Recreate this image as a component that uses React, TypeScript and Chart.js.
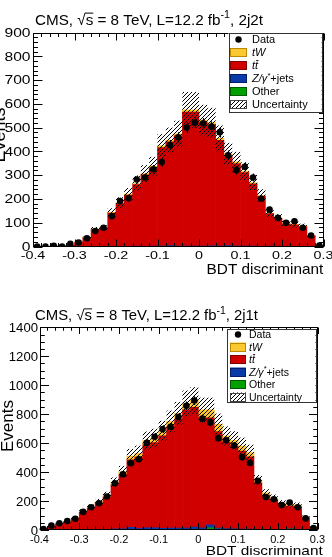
import React, { useEffect, useRef } from 'react';
import { Chart, registerables } from 'chart.js';

Chart.register(...registerables);

// ---------------- data ----------------
const binCenters = [
  -0.39, -0.37, -0.35, -0.33, -0.31, -0.29, -0.27, -0.25, -0.23, -0.21,
  -0.19, -0.17, -0.15, -0.13, -0.11, -0.09, -0.07, -0.05, -0.03, -0.01,
  0.01, 0.03, 0.05, 0.07, 0.09, 0.11, 0.13, 0.15, 0.17, 0.19,
  0.21, 0.23, 0.25, 0.27, 0.29,
];
const binHalfWidth = 0.01;
const xTickLabels = ['-0.4', '-0.3', '-0.2', '-0.1', '0', '0.1', '0.2', '0.3'];
const yTickLabels2j2t = ['0', '100', '200', '300', '400', '500', '600', '700', '800', '900'];
const yTickLabels2j1t = ['0', '200', '400', '600', '800', '1000', '1200', '1400'];

// 2j2t region
const data2j2t = [0, 0, 3, 0, 11, 17, 35, 65, 79, 127, 191, 203, 282, 290, 325, 355, 427, 459, 500, 520, 518, 504, 480, 384, 321, 335, 290, 201, 155, 121, 100, 106, 79, 46, 4];
const tw2j2t = [0, 0, 0, 0, 0, 1, 1, 2, 2, 3, 4, 4, 5, 6, 7, 8, 8, 9, 10, 10, 9, 9, 9, 8, 7, 6, 5, 4, 3, 3, 2, 2, 2, 1, 0];
const tt2j2t = [1, 1, 2, 3, 6, 17, 36, 71, 77, 141, 180, 215, 258, 300, 329, 414, 436, 463, 563, 563, 521, 509, 444, 378, 347, 309, 262, 210, 136, 118, 94, 91, 83, 45, 4];
const zjets2j2t = [0, 0, 0, 0, 0, 0, 0, 0, 0, 0, 0, 1, 1, 1, 1, 1, 3, 1, 1, 1, 1, 2, 1, 3, 1, 1, 1, 1, 1, 0, 0, 0, 0, 0, 0];
const other2j2t = [0, 0, 0, 0, 0, 0, 0, 0, 0, 0, 1, 0, 1, 0, 1, 1, 1, 1, 1, 1, 1, 1, 1, 1, 1, 1, 1, 0, 1, 0, 0, 0, 0, 0, 0];
const unc2j2t = [1, 1, 1, 1, 2, 3, 5, 9, 10, 17, 22, 26, 31, 35, 39, 49, 52, 55, 75, 75, 64, 62, 54, 46, 42, 37, 32, 26, 17, 15, 12, 12, 11, 7, 2];

// 2j1t region
const data2j1t = [7, 30, 46, 62, 78, 125, 157, 185, 231, 323, 385, 461, 489, 602, 644, 697, 713, 780, 858, 894, 770, 743, 634, 620, 584, 503, 463, 339, 228, 212, 172, 190, 157, 80, 14];
const tw2j1t = [1, 2, 3, 4, 5, 7, 8, 10, 12, 16, 20, 25, 27, 30, 32, 35, 38, 40, 45, 48, 55, 55, 50, 42, 40, 35, 30, 20, 14, 12, 10, 10, 10, 5, 1];
const tt2j1t = [9, 25, 41, 54, 77, 119, 148, 180, 223, 306, 375, 467, 494, 573, 588, 639, 699, 751, 817, 827, 760, 740, 666, 598, 572, 538, 498, 320, 237, 206, 173, 157, 158, 83, 18];
const zjets2j1t = [0, 1, 1, 2, 2, 3, 3, 4, 4, 6, 6, 15, 6, 12, 12, 8, 10, 10, 10, 15, 10, 20, 8, 6, 5, 4, 4, 3, 3, 2, 2, 2, 2, 1, 1];
const other2j1t = [0, 0, 0, 0, 1, 1, 1, 1, 1, 2, 2, 3, 3, 3, 3, 3, 3, 4, 3, 5, 5, 15, 6, 4, 3, 3, 3, 2, 2, 2, 2, 6, 2, 1, 0];
const unc2j1t = [2, 4, 5, 7, 9, 13, 16, 20, 24, 33, 40, 50, 53, 62, 64, 69, 75, 80, 88, 92, 84, 84, 74, 66, 62, 58, 54, 35, 26, 23, 19, 18, 18, 10, 3];

// ---------------- styles ----------------
const FONT = '"Liberation Sans", Arial, Helvetica, sans-serif';
const YELLOW = '#fdc82f';
const YELLOW_EDGE = '#b88a00';
const RED = '#d00000';
const RED_EDGE = '#800000';
const BLUE = '#0a3aa8';
const BLUE_EDGE = '#001f66';
const GREEN = '#00a000';
const GREEN_EDGE = '#005a00';

type Run = { t: string; italic?: boolean; sup?: boolean; bar?: boolean; over?: boolean };

function setFont(ctx: CanvasRenderingContext2D, size: number, italic = false) {
  ctx.font = `${italic ? 'italic ' : ''}${size}px ${FONT}`;
}
function runsWidth(ctx: CanvasRenderingContext2D, runs: Run[], size: number) {
  let w = 0;
  for (const r of runs) {
    setFont(ctx, r.sup ? size * 0.7 : size, r.italic);
    w += ctx.measureText(r.t).width;
  }
  return w;
}
function drawRuns(
  ctx: CanvasRenderingContext2D, runs: Run[], x: number, y: number, size: number,
  sx: number, align: 'left' | 'right' | 'center',
) {
  const w = runsWidth(ctx, runs, size) * sx;
  const x0 = align === 'right' ? x - w : align === 'center' ? x - w / 2 : x;
  ctx.save();
  ctx.translate(x0, y);
  ctx.scale(sx, 1);
  ctx.textAlign = 'left';
  ctx.textBaseline = 'alphabetic';
  ctx.fillStyle = '#000';
  let cx = 0;
  for (const r of runs) {
    const s = r.sup ? size * 0.7 : size;
    setFont(ctx, s, r.italic);
    const dy = r.sup ? -size * 0.42 : 0;
    ctx.fillText(r.t, cx, dy);
    const rw = ctx.measureText(r.t).width;
    if (r.bar) ctx.fillRect(cx + rw * 0.35, dy - size * 0.86, rw * 0.75, Math.max(0.9, size * 0.07));
    if (r.over) ctx.fillRect(cx - 0.5, dy - size * 0.8, rw + 0.5, Math.max(0.9, size * 0.065));
    cx += rw;
  }
  ctx.restore();
  return w;
}

function makeHatch(ctx: CanvasRenderingContext2D) {
  const c = document.createElement('canvas');
  c.width = 4;
  c.height = 4;
  const g = c.getContext('2d')!;
  g.strokeStyle = '#000';
  g.lineWidth = 1;
  g.beginPath();
  g.moveTo(-1, 5); g.lineTo(5, -1);
  g.moveTo(-1, 1); g.lineTo(1, -1);
  g.moveTo(3, 5); g.lineTo(5, 3);
  g.stroke();
  return ctx.createPattern(c, 'repeat')!;
}

interface PanelCfg {
  top: number;
  height: number;
  region: string;
  frame: { left: number; top: number; right: number; bottom: number };
  yMax: number;
  yTicks: string[];
  yMinor: number;
  data: number[]; tw: number[]; tt: number[]; zj: number[]; oth: number[]; unc: number[];
  title: { x: number; base: number; size: number; width: number };
  yLab: { size: number; sx: number; right: number; dy: number };
  xLab: { size: number; sx: number; base: number };
  xTitle: { size: number; width: number; right: number; base: number };
  ev: { size: number; x: number; y: number };
  tick: { xMaj: number; yMaj: number };
  legend: { box: number[]; row0: number; step: number; sw0: number; sw1: number; swH: number; textX: number; size: number };
}

const panels: PanelCfg[] = [
  {
    top: 0, height: 282, region: '2j2t',
    frame: { left: 33, top: 32.5, right: 323.5, bottom: 246.5 },
    yMax: 900, yTicks: yTickLabels2j2t, yMinor: 20,
    data: data2j2t, tw: tw2j2t, tt: tt2j2t, zj: zjets2j2t, oth: other2j2t, unc: unc2j2t,
    title: { x: 35, base: 25, size: 15.5, width: 228 },
    yLab: { size: 12, sx: 1.3, right: 30.5, dy: 4.3 },
    xLab: { size: 11, sx: 1.3, base: 258.5 },
    xTitle: { size: 14.5, width: 116.7, right: 323.3, base: 274 },
    ev: { size: 18, x: 4.5, y: 135 },
    tick: { xMaj: 7, yMaj: 9 },
    legend: { box: [228.5, 33, 321.7, 112], row0: 39.5, step: 13, sw0: 230, sw1: 247, swH: 9, textX: 252, size: 11 },
  },
  {
    top: 298, height: 259, region: '2j1t',
    frame: { left: 39.5, top: 29.3, right: 317.5, bottom: 232 },
    yMax: 1400, yTicks: yTickLabels2j1t, yMinor: 50,
    data: data2j1t, tw: tw2j1t, tt: tt2j1t, zj: zjets2j1t, oth: other2j1t, unc: unc2j1t,
    title: { x: 35, base: 22, size: 14.5, width: 223 },
    yLab: { size: 12.5, sx: 1.05, right: 38, dy: 4.5 },
    xLab: { size: 11, sx: 1.0, base: 245 },
    xTitle: { size: 13, width: 117, right: 322.7, base: 257 },
    ev: { size: 17, x: 13, y: 128 },
    tick: { xMaj: 6.5, yMaj: 8.5 },
    legend: { box: [227, 31, 315.5, 104], row0: 36.5, step: 12.5, sw0: 230, sw1: 246, swH: 9, textX: 249, size: 10.5 },
  },
];

function Panel({ cfg }: { cfg: PanelCfg }) {
  const ref = useRef<HTMLCanvasElement>(null);
  useEffect(() => {
    const canvas = ref.current!;
    const W = 332;
    const H = cfg.height;
    const pts = (arr: number[]) => binCenters.map((x, i) => ({ x, y: arr[i] }));
    const barDs = (label: string, arr: number[], color: string) => ({
      type: 'bar' as const,
      label,
      data: pts(arr),
      backgroundColor: color,
      borderWidth: 0,
      barPercentage: 1,
      categoryPercentage: 1,
      stack: 'mc',
    });

    const decor = {
      id: 'cmsDecor',
      beforeDatasetDraw(chart: any, args: any) {
        if (args.index !== 0) return;
        const ctx: CanvasRenderingContext2D = chart.ctx;
        const xs = chart.scales.x;
        const ys = chart.scales.y;
        const ca = chart.chartArea;
        ctx.save();
        ctx.beginPath();
        ctx.rect(ca.left, ca.top, ca.right - ca.left, ca.bottom - ca.top);
        ctx.clip();
        // uncertainty band
        const pat = makeHatch(ctx);
        ctx.fillStyle = pat;
        binCenters.forEach((c, i) => {
          const tot = cfg.tw[i] + cfg.tt[i] + cfg.zj[i] + cfg.oth[i];
          const x0 = xs.getPixelForValue(c - binHalfWidth);
          const x1 = xs.getPixelForValue(c + binHalfWidth);
          const y0 = ys.getPixelForValue(tot + cfg.unc[i]);
          const y1 = ys.getPixelForValue(Math.max(0, tot - cfg.unc[i]));
          ctx.fillRect(x0, y0, x1 - x0, y1 - y0);
        });
        // error bars on data
        ctx.strokeStyle = '#000';
        ctx.lineWidth = 1.2;
        binCenters.forEach((c, i) => {
          const n = cfg.data[i];
          if (n <= 0) return;
          const e = Math.sqrt(n);
          const px = Math.round(xs.getPixelForValue(c)) + 0.5;
          ctx.beginPath();
          ctx.moveTo(px, ys.getPixelForValue(n + e));
          ctx.lineTo(px, ys.getPixelForValue(Math.max(0, n - e)));
          ctx.stroke();
        });
        ctx.restore();
      },
      afterDraw(chart: any) {
        const ctx: CanvasRenderingContext2D = chart.ctx;
        const xs = chart.scales.x;
        const ys = chart.scales.y;
        const ca = chart.chartArea;
        ctx.save();
        // frame
        ctx.strokeStyle = '#000';
        ctx.lineWidth = 1;
        const L = Math.round(ca.left) + 0.5;
        const R = Math.round(ca.right) - 0.5;
        const T = Math.round(ca.top) + 0.5;
        const B = Math.round(ca.bottom) - 0.5;
        ctx.strokeRect(L, T, R - L, B - T);
        // x ticks (bottom and top)
        ctx.beginPath();
        for (let k = 0; k <= 35; k++) {
          const v = -0.4 + 0.02 * k;
          const len = k % 5 === 0 ? cfg.tick.xMaj : cfg.tick.xMaj / 2;
          const px = Math.round(xs.getPixelForValue(v)) + 0.5;
          ctx.moveTo(px, B); ctx.lineTo(px, B - len);
          ctx.moveTo(px, T); ctx.lineTo(px, T + len);
        }
        // y ticks (left and right)
        const majStep = parseFloat(cfg.yTicks[1]);
        for (let v = 0; v <= cfg.yMax + 1e-6; v += cfg.yMinor) {
          const len = Math.abs(v / majStep - Math.round(v / majStep)) < 1e-6 ? cfg.tick.yMaj : cfg.tick.yMaj / 2;
          const py = Math.round(ys.getPixelForValue(v)) + 0.5;
          ctx.moveTo(L, py); ctx.lineTo(L + len, py);
          ctx.moveTo(R, py); ctx.lineTo(R - len, py);
        }
        ctx.stroke();

        // tick labels
        cfg.yTicks.forEach((lab) => {
          const py = ys.getPixelForValue(parseFloat(lab));
          drawRuns(ctx, [{ t: lab }], cfg.yLab.right, py + cfg.yLab.dy, cfg.yLab.size, cfg.yLab.sx, 'right');
        });
        xTickLabels.forEach((lab) => {
          const px = xs.getPixelForValue(parseFloat(lab));
          drawRuns(ctx, [{ t: lab }], px, cfg.xLab.base, cfg.xLab.size, cfg.xLab.sx, 'center');
        });

        // axis titles
        const xt: Run[] = [{ t: 'BDT discriminant' }];
        const xsx = cfg.xTitle.width / runsWidth(ctx, xt, cfg.xTitle.size);
        drawRuns(ctx, xt, cfg.xTitle.right, cfg.xTitle.base, cfg.xTitle.size, xsx, 'right');
        ctx.save();
        ctx.translate(cfg.ev.x, cfg.ev.y);
        ctx.rotate(-Math.PI / 2);
        drawRuns(ctx, [{ t: 'Events' }], 0, 0, cfg.ev.size, 1, 'center');
        ctx.restore();

        // title
        const title: Run[] = [
          { t: 'CMS, \u221A' },
          { t: 's', over: true },
          { t: ' = 8 TeV, L=12.2 fb' },
          { t: '-1', sup: true },
          { t: ', ' + cfg.region },
        ];
        const tsx = cfg.title.width / runsWidth(ctx, title, cfg.title.size);
        drawRuns(ctx, title, cfg.title.x, cfg.title.base, cfg.title.size, tsx, 'left');

        // legend
        const lg = cfg.legend;
        const [bx0, by0, bx1, by1] = lg.box;
        ctx.fillStyle = '#fff';
        ctx.fillRect(bx0, by0, bx1 - bx0, by1 - by0);
        ctx.strokeStyle = '#333';
        ctx.lineWidth = 1;
        ctx.strokeRect(Math.round(bx0) + 0.5, Math.round(by0) + 0.5, Math.round(bx1 - bx0), Math.round(by1 - by0));
        const entries: { kind: string; fill?: string; edge?: string; runs: Run[] }[] = [
          { kind: 'dot', runs: [{ t: 'Data' }] },
          { kind: 'box', fill: YELLOW, edge: YELLOW_EDGE, runs: [{ t: 'tW', italic: true }] },
          { kind: 'box', fill: RED, edge: RED_EDGE, runs: [{ t: 't', italic: true }, { t: 't', italic: true, bar: true }] },
          { kind: 'box', fill: BLUE, edge: BLUE_EDGE, runs: [{ t: 'Z/\u03B3', italic: true }, { t: '*', italic: true, sup: true }, { t: '+jets' }] },
          { kind: 'box', fill: GREEN, edge: GREEN_EDGE, runs: [{ t: 'Other' }] },
          { kind: 'hatch', runs: [{ t: 'Uncertainty' }] },
        ];
        entries.forEach((en, i) => {
          const cy = lg.row0 + lg.step * i;
          const x0 = lg.sw0;
          const w = lg.sw1 - lg.sw0;
          const y0 = cy - lg.swH / 2;
          if (en.kind === 'dot') {
            ctx.fillStyle = '#000';
            ctx.beginPath();
            ctx.arc(x0 + w / 2, cy, 3.2, 0, Math.PI * 2);
            ctx.fill();
          } else if (en.kind === 'box') {
            ctx.fillStyle = en.fill!;
            ctx.fillRect(x0, y0, w, lg.swH);
            ctx.strokeStyle = en.edge!;
            ctx.lineWidth = 1;
            ctx.strokeRect(x0 + 0.5, Math.round(y0) + 0.5, w - 1, lg.swH - 1);
          } else {
            ctx.fillStyle = '#fff';
            ctx.fillRect(x0, y0, w, lg.swH);
            ctx.fillStyle = makeHatch(ctx);
            ctx.fillRect(x0, y0, w, lg.swH);
            ctx.strokeStyle = '#444';
            ctx.lineWidth = 1;
            ctx.strokeRect(x0 + 0.5, Math.round(y0) + 0.5, w - 1, lg.swH - 1);
          }
          drawRuns(ctx, en.runs, lg.textX, cy + lg.size * 0.36, lg.size, 1, 'left');
        });
        ctx.restore();
      },
    };

    const chart = new Chart(canvas, {
      type: 'bar',
      data: {
        datasets: [
          {
            type: 'scatter',
            label: 'Data',
            data: pts(cfg.data),
            pointRadius: 3.3,
            pointBackgroundColor: '#000',
            pointBorderWidth: 0,
            pointBorderColor: '#000',
            stack: 'data',
          } as any,
          barDs('Other', cfg.oth, GREEN),
          barDs('Z/gamma*+jets', cfg.zj, BLUE),
          barDs('ttbar', cfg.tt, RED),
          barDs('tW', cfg.tw, YELLOW),
        ],
      },
      options: {
        responsive: false,
        animation: false,
        devicePixelRatio: 1,
        events: [],
        layout: {
          padding: {
            left: cfg.frame.left,
            top: cfg.frame.top,
            right: W - cfg.frame.right,
            bottom: H - cfg.frame.bottom,
          },
        },
        plugins: {
          legend: { display: false },
          title: { display: false },
          tooltip: { enabled: false },
        },
        scales: {
          x: { type: 'linear', min: -0.4, max: 0.3, stacked: true, offset: false, display: false },
          y: { type: 'linear', min: 0, max: cfg.yMax, stacked: true, display: false },
        },
      } as any,
      plugins: [decor],
    });
    return () => chart.destroy();
  }, [cfg]);
  return (
    <canvas
      ref={ref}
      width={332}
      height={cfg.height}
      style={{ position: 'absolute', left: 0, top: cfg.top, width: 332, height: cfg.height, display: 'block' }}
    />
  );
}

export default function App() {
  return (
    <div style={{ position: 'absolute', left: 0, top: 0, width: 332, height: 557, background: '#fff', overflow: 'hidden' }}>
      {panels.map((p) => (
        <Panel key={p.region} cfg={p} />
      ))}
    </div>
  );
}
